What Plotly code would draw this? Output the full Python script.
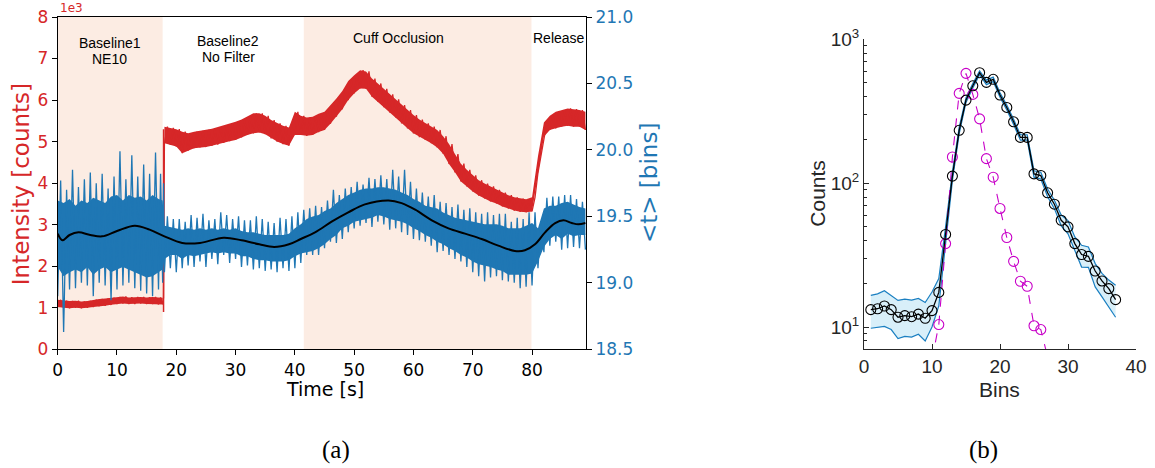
import math
import plotly.graph_objects as go

# ---------------- (a) time series ----------------
time_s = list(range(0, 18)) + [17.7] + list(range(18, 90))

# red intensity band (thousands of counts): lower / upper envelope per sample
red_lo = [1.02, 1.00, 0.99, 1.00, 0.99, 1.00, 1.02, 1.04, 1.05, 1.07, 1.09, 1.10, 1.09, 1.09, 1.10, 1.09, 1.09, 1.08, 1.08,
          4.96, 4.92, 4.88, 4.72, 4.78, 4.84, 4.86, 4.87, 4.90, 4.93, 4.97, 5.01, 5.04, 5.10, 5.16, 5.20, 5.22, 5.18, 5.08, 5.00, 4.94, 4.90,
          5.16, 5.16, 5.14, 5.16, 5.23, 5.28, 5.43, 5.60, 5.78, 6.00,
          6.16, 6.28, 6.27, 6.08, 5.96, 5.83, 5.70, 5.58, 5.44, 5.32,
          5.20, 5.11, 5.04, 4.96, 4.86, 4.71, 4.46, 4.26, 4.04, 3.92,
          3.80, 3.70, 3.63, 3.56, 3.51, 3.44, 3.39, 3.34, 3.31, 3.30,
          3.32, 4.25, 5.12, 5.28, 5.32, 5.36, 5.38, 5.36, 5.36, 5.28]
red_hi = [1.19, 1.17, 1.16, 1.17, 1.15, 1.16, 1.19, 1.21, 1.22, 1.24, 1.26, 1.27, 1.25, 1.26, 1.26, 1.25, 1.26, 1.25, 1.24,
          5.36, 5.33, 5.30, 5.24, 5.20, 5.24, 5.26, 5.28, 5.31, 5.35, 5.39, 5.43, 5.48, 5.53, 5.60, 5.68, 5.68, 5.62, 5.52, 5.44, 5.38, 5.34,
          5.72, 5.62, 5.58, 5.60, 5.67, 5.72, 5.87, 6.04, 6.22, 6.46,
          6.60, 6.72, 6.69, 6.52, 6.40, 6.27, 6.14, 6.02, 5.88, 5.76,
          5.64, 5.53, 5.44, 5.36, 5.28, 5.13, 4.94, 4.70, 4.47, 4.32,
          4.19, 4.07, 3.99, 3.92, 3.84, 3.77, 3.71, 3.66, 3.63, 3.61,
          3.66, 4.65, 5.46, 5.62, 5.72, 5.76, 5.80, 5.78, 5.76, 5.72]
red_dip_t = [17.85]
red_dip_lo = [0.90]
red_dip_hi = [5.30]

# blue <t> (bins): core band and extreme spikes per sample
blue_core_lo = [19.12, 19.05, 19.08, 19.10, 19.08, 19.12, 19.06, 19.10, 19.12, 19.08, 19.10, 19.12, 19.10, 19.08, 19.06, 19.04, 19.05, 19.08, 19.10,
                19.18, 19.21, 19.21, 19.18, 19.21, 19.20, 19.21, 19.22, 19.23, 19.22, 19.23, 19.22, 19.22, 19.20, 19.20, 19.18, 19.17, 19.17, 19.16, 19.16, 19.16, 19.17,
                19.20, 19.22, 19.23, 19.24, 19.26, 19.29, 19.33, 19.36, 19.41, 19.43,
                19.46, 19.47, 19.48, 19.49, 19.51, 19.50, 19.48, 19.47, 19.46, 19.44,
                19.41, 19.39, 19.36, 19.34, 19.31, 19.29, 19.26, 19.24, 19.21, 19.19,
                19.16, 19.14, 19.13, 19.12, 19.10, 19.09, 19.06, 19.06, 19.06, 19.06,
                19.07, 19.16, 19.27, 19.33, 19.36, 19.33, 19.37, 19.35, 19.36, 19.36]
blue_core_hi = [19.62, 19.60, 19.63, 19.58, 19.62, 19.60, 19.64, 19.62, 19.60, 19.65, 19.66, 19.62, 19.66, 19.64, 19.65, 19.62, 19.66, 19.63, 19.62,
                19.43, 19.42, 19.41, 19.40, 19.41, 19.40, 19.41, 19.40, 19.41, 19.40, 19.41, 19.40, 19.41, 19.39, 19.38, 19.38, 19.37, 19.36, 19.36, 19.36, 19.36, 19.37,
                19.41, 19.44, 19.48, 19.50, 19.51, 19.54, 19.56, 19.60, 19.63, 19.66,
                19.68, 19.70, 19.71, 19.71, 19.72, 19.72, 19.71, 19.70, 19.68, 19.66,
                19.63, 19.61, 19.58, 19.57, 19.56, 19.53, 19.51, 19.49, 19.48, 19.47,
                19.46, 19.45, 19.44, 19.44, 19.44, 19.43, 19.41, 19.41, 19.41, 19.43,
                19.45, 19.41, 19.56, 19.58, 19.58, 19.60, 19.61, 19.59, 19.57, 19.56]
blue_ext_lo = [18.90, 18.63, 18.95, 18.96, 19.00, 18.98, 18.90, 19.00, 18.98, 18.87, 18.95, 18.98, 19.00, 18.96, 18.94, 18.92, 18.90, 18.95, 19.00,
               19.08, 19.11, 19.08, 19.11, 19.13, 19.12, 19.16, 19.12, 19.18, 19.14, 19.21, 19.15, 19.18, 19.12, 19.13, 19.10, 19.11, 19.09, 19.10, 19.08, 19.11, 19.09,
               19.11, 19.15, 19.21, 19.21, 19.21, 19.26, 19.31, 19.30, 19.33, 19.38,
               19.41, 19.43, 19.45, 19.42, 19.46, 19.44, 19.40, 19.41, 19.38, 19.36,
               19.33, 19.32, 19.31, 19.28, 19.23, 19.24, 19.21, 19.18, 19.16, 19.12,
               19.08, 19.05, 19.01, 19.04, 19.05, 19.02, 19.01, 19.00, 18.96, 18.97,
               18.98, 19.11, 19.23, 19.28, 19.31, 19.25, 19.26, 19.27, 19.26, 19.25]
blue_ext_hi = [19.77, 19.70, 19.85, 19.72, 19.78, 19.83, 19.75, 19.82, 19.71, 19.80, 19.99, 19.78, 19.96, 19.80, 19.89, 19.82, 19.98, 19.82, 19.75,
               19.50, 19.48, 19.48, 19.46, 19.51, 19.49, 19.52, 19.47, 19.48, 19.53, 19.51, 19.48, 19.50, 19.47, 19.47, 19.50, 19.48, 19.46, 19.45, 19.49, 19.48, 19.50,
               19.53, 19.55, 19.56, 19.58, 19.57, 19.62, 19.70, 19.66, 19.71, 19.72,
               19.76, 19.74, 19.79, 19.78, 19.81, 19.78, 19.85, 19.80, 19.85, 19.76,
               19.71, 19.68, 19.65, 19.66, 19.61, 19.60, 19.57, 19.59, 19.55, 19.56,
               19.53, 19.52, 19.53, 19.51, 19.52, 19.52, 19.46, 19.49, 19.48, 19.53,
               19.53, 19.46, 19.64, 19.65, 19.65, 19.66, 19.66, 19.63, 19.61, 19.57]

smooth_t = [0, 0.8, 2, 3.5, 5.5, 7.5, 10, 13, 15.5, 18, 21, 24, 28, 31, 34, 36.5, 39, 41, 43.4, 46.2,
            49, 51.8, 55.8, 58, 60.3, 63.1, 65.9, 68.7, 71.5, 74.3, 77.1, 78.8, 80.5, 82.2, 83.9, 85.3, 86.7, 87.8, 89]
smooth_v = [19.37, 19.32, 19.36, 19.38, 19.36, 19.35, 19.39, 19.43, 19.40, 19.35, 19.30, 19.30, 19.34, 19.32, 19.29, 19.27, 19.29, 19.33, 19.38, 19.46,
            19.53, 19.59, 19.62, 19.60, 19.55, 19.47, 19.41, 19.37, 19.33, 19.28, 19.24, 19.245, 19.29, 19.38, 19.45, 19.47, 19.45, 19.44, 19.45]

phase_start = [0, 41.5]
phase_end = [17.7, 79.9]
phase_labels = [("Baseline1", 8.8, 7.38), ("NE10", 8.8, 6.98), ("Baseline2", 28.8, 7.43), ("No Filter", 28.8, 7.03),
                ("Cuff Occlusion", 57.5, 7.50), ("Release", 84.5, 7.50)]

# ---------------- (b) histogram ----------------
bins = list(range(1, 38))
counts = [13.2, 13.4, 14.0, 13.2, 11.7, 12.0, 11.8, 12.3, 11.5, 13.0,
          17.4, 44, 112, 233, 378, 475, 586, 502, 527, 410,
          336, 267, 208, 208, 116, 113, 85.7, 71.4, 55.2, 49.7,
          38, 31.9, 31.0, 24.5, 20.9, 18.5, 15.5]
band_upper = [16.6, 17.0, 17.9, 16.5, 15.3, 15.6, 15.4, 15.8, 14.8, 17.5,
              21.7, 50, 120, 245, 392, 492, 604, 520, 546, 425,
              349, 278, 217, 217, 122, 119, 91, 76, 60, 55,
              42.3, 37, 36, 27.6, 23.6, 21.2, 19.5]
band_lower = [9.8, 9.9, 10.1, 9.6, 8.3, 8.6, 8.5, 8.9, 8.0, 10.0,
              14.0, 38, 104, 221, 364, 458, 568, 484, 508, 395,
              323, 256, 199, 199, 110, 107, 80.5, 66.5, 50.5, 44.5,
              34.2, 26.1, 26, 19, 16.2, 13.8, 11.7]
irf_bins = [10, 11, 12, 13, 14, 15, 16, 17, 18, 19, 20, 21, 22, 23, 24, 25, 26, 27]
irf_counts = [5.9, 10.4, 38, 152, 421, 580, 414, 280, 148, 110, 66.7, 41.9, 28.6, 20.8, 19.2, 10.2, 9.6, 6.2]

RED = "#d62728"
BLUE = "#1f77b4"
SPAN = "#fcece3"
MBLUE = "#1a7fc1"
MAG = "#c800c8"
DV = "DejaVu Sans"
LS = "Liberation Sans"


def zigzag(t, lo, hi):
    xs, ys = [], []
    for i in range(len(t)):
        xs.append(t[i]); ys.append(lo[i])
        if i < len(t) - 1:
            xs.append((t[i] + t[i + 1]) / 2); ys.append(hi[i])
    return xs, ys


def band(t, lo, hi):
    return list(t) + list(t)[::-1], list(hi) + list(lo)[::-1]


fig = go.Figure()

# red intensity: filled min/max envelope with a thin zigzag for the noisy edge
bx, by = band(time_s, red_lo, red_hi)
fig.add_trace(go.Scatter(x=bx, y=by, fill="toself", fillcolor=RED, line=dict(width=0), mode="lines",
                         xaxis="x", yaxis="y", hoverinfo="skip"))
zx, zy = zigzag(time_s, red_lo, red_hi)
fig.add_trace(go.Scatter(x=zx, y=zy, mode="lines", line=dict(color=RED, width=1.3), xaxis="x", yaxis="y"))
for t, lo, hi in zip(red_dip_t, red_dip_lo, red_dip_hi):
    fig.add_trace(go.Scatter(x=[t, t], y=[lo, hi], mode="lines", line=dict(color=RED, width=1.5), xaxis="x", yaxis="y"))

# blue <t>
bx, by = band(time_s, blue_core_lo, blue_core_hi)
fig.add_trace(go.Scatter(x=bx, y=by, fill="toself", fillcolor=BLUE, line=dict(width=0), mode="lines",
                         xaxis="x", yaxis="y2", hoverinfo="skip"))
zx, zy = zigzag(time_s, blue_ext_lo, blue_ext_hi)
fig.add_trace(go.Scatter(x=zx, y=zy, mode="lines", line=dict(color=BLUE, width=1.3), xaxis="x", yaxis="y2"))
fig.add_trace(go.Scatter(x=smooth_t, y=smooth_v, mode="lines", line=dict(color="black", width=2, shape="spline"),
                         xaxis="x", yaxis="y2"))

# (b) histogram
fig.add_trace(go.Scatter(x=bins + bins[::-1], y=band_upper + band_lower[::-1], fill="toself", fillcolor="#d8eff9",
                         line=dict(width=0), mode="lines", xaxis="x2", yaxis="y3", hoverinfo="skip"))
fig.add_trace(go.Scatter(x=bins, y=band_upper, mode="lines", line=dict(color=MBLUE, width=1.2), xaxis="x2", yaxis="y3"))
fig.add_trace(go.Scatter(x=bins, y=band_lower, mode="lines", line=dict(color=MBLUE, width=1.2), xaxis="x2", yaxis="y3"))
fig.add_trace(go.Scatter(x=irf_bins, y=irf_counts, mode="lines+markers",
                         line=dict(color=MAG, width=1.1, dash="dash"),
                         marker=dict(symbol="circle-open", size=10, color=MAG, line=dict(width=1.1)),
                         xaxis="x2", yaxis="y3"))
fig.add_trace(go.Scatter(x=bins, y=counts, mode="lines+markers",
                         line=dict(color="black", width=1.3),
                         marker=dict(symbol="circle-open", size=10, color="black", line=dict(width=1.1)),
                         xaxis="x2", yaxis="y3"))

shapes = []
for s, e in zip(phase_start, phase_end):
    shapes.append(dict(type="rect", xref="x", yref="y domain", x0=s, x1=e, y0=0, y1=1,
                       fillcolor=SPAN, line=dict(width=0), layer="below"))

ann = []
for txt, x, y in phase_labels:
    ann.append(dict(text=txt, x=x, y=y, xref="x", yref="y", showarrow=False,
                    font=dict(family=LS, size=14, color="black"), xanchor="center", yanchor="middle"))
ann += [
    dict(text="1e3", x=58 / 1155, y=1 - 8 / 468, xref="paper", yref="paper", showarrow=False,
         font=dict(family=DV, size=12, color=RED), xanchor="left", yanchor="middle"),
    dict(text="Intensity [counts]", x=21.7 / 1155, y=1 - 184.5 / 468, xref="paper", yref="paper", showarrow=False,
         textangle=-90, font=dict(family=DV, size=23, color=RED), xanchor="center", yanchor="middle"),
    dict(text="&lt;t&gt; [bins]", x=649 / 1155, y=1 - 183 / 468, xref="paper", yref="paper", showarrow=False,
         textangle=-90, font=dict(family=DV, size=23, color=BLUE), xanchor="center", yanchor="middle"),
    dict(text="Time [s]", x=324.5 / 1155, y=1 - 389 / 468, xref="paper", yref="paper", showarrow=False,
         font=dict(family=DV, size=19, color="black"), xanchor="center", yanchor="middle"),
    dict(text="Counts", x=816.7 / 1155, y=1 - 193 / 468, xref="paper", yref="paper", showarrow=False,
         textangle=-90, font=dict(family=LS, size=21, color="#262626"), xanchor="center", yanchor="middle"),
    dict(text="Bins", x=999.5 / 1155, y=1 - 389 / 468, xref="paper", yref="paper", showarrow=False,
         font=dict(family=LS, size=21, color="#262626"), xanchor="center", yanchor="middle"),
    dict(text="(a)", x=336 / 1155, y=1 - 450 / 468, xref="paper", yref="paper", showarrow=False,
         font=dict(family="Liberation Serif", size=25, color="black"), xanchor="center", yanchor="middle"),
    dict(text="(b)", x=984 / 1155, y=1 - 450 / 468, xref="paper", yref="paper", showarrow=False,
         font=dict(family="Liberation Serif", size=25, color="black"), xanchor="center", yanchor="middle"),
]

fig.update_layout(
    width=1155, height=468, margin=dict(l=0, r=0, t=0, b=0),
    paper_bgcolor="white", plot_bgcolor="white", showlegend=False,
    shapes=shapes, annotations=ann,
    xaxis=dict(domain=[57.7 / 1155, 586 / 1155], range=[0, 89.1], tickmode="linear", tick0=0, dtick=10,
               showline=True, linecolor="black", linewidth=1.1, mirror=True, ticks="outside", ticklen=5,
               tickcolor="black", tickfont=dict(family=DV, size=17, color="black"), showgrid=False,
               zeroline=False, automargin=False, anchor="y"),
    yaxis=dict(domain=[1 - 349.3 / 468, 1 - 17 / 468], range=[0, 8], tickmode="linear", tick0=0, dtick=1,
               showline=True, linecolor="black", linewidth=1.1, ticks="outside", ticklen=5, tickcolor="black",
               tickfont=dict(family=DV, size=17, color=RED), showgrid=False, zeroline=False, automargin=False,
               anchor="x"),
    yaxis2=dict(overlaying="y", side="right", range=[18.5, 21.0], tickmode="linear", tick0=18.5, dtick=0.5,
                tickformat=".1f", showline=True, linecolor="black", linewidth=1.1, ticks="outside", ticklen=5,
                tickcolor="black", tickfont=dict(family=DV, size=17, color=BLUE), showgrid=False,
                zeroline=False, automargin=False, anchor="x"),
    xaxis2=dict(domain=[864 / 1155, 1136 / 1155], range=[0, 40], tickmode="linear", tick0=0, dtick=10,
                showline=True, linecolor="#262626", linewidth=1, ticks="inside", ticklen=5, tickcolor="#262626",
                tickfont=dict(family=LS, size=19, color="#262626"), showgrid=False, zeroline=False,
                automargin=False, anchor="y3"),
    yaxis3=dict(domain=[1 - 349.3 / 468, 1 - 39.3 / 468], type="log", range=[math.log10(7.0), 3],
                tickvals=[10, 100, 1000], ticktext=["10<sup>1</sup>", "10<sup>2</sup>", "10<sup>3</sup>"],
                showline=True, linecolor="#262626", linewidth=1, ticks="inside", ticklen=5, tickcolor="#262626",
                minor=dict(tickvals=[7, 8, 9, 20, 30, 40, 50, 60, 70, 80, 90, 200, 300, 400, 500, 600, 700, 800, 900],
                           ticks="inside", ticklen=3, tickcolor="#262626"),
                tickfont=dict(family=LS, size=19, color="#262626"), showgrid=False, zeroline=False,
                automargin=False, anchor="x2"),
)

fig.write_html("out.html")
